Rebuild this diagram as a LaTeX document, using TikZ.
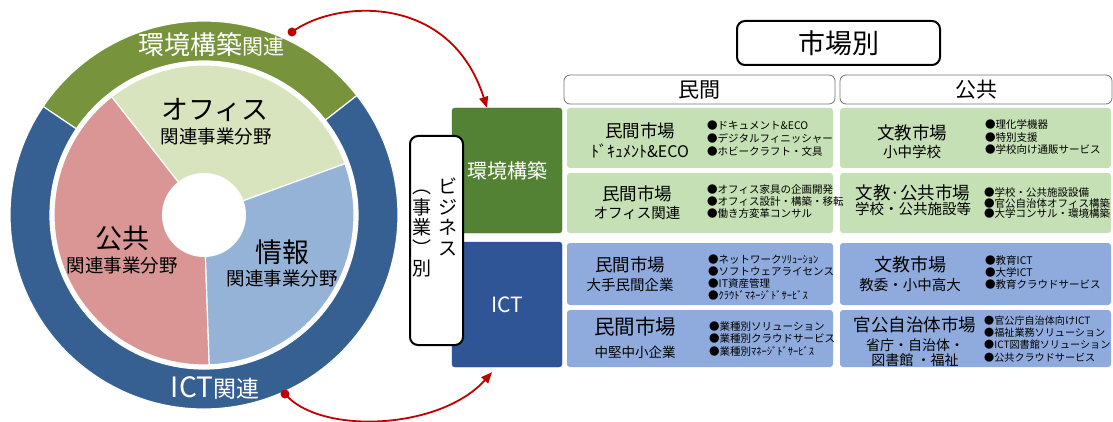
\documentclass[tikz,border=0pt]{standalone}
\usepackage{fontspec}
\setmainfont{Noto Sans CJK JP}
\usetikzlibrary{arrows.meta,positioning,calc}
\definecolor{ringgreen}{RGB}{119,147,60}
\definecolor{ringblue}{RGB}{55,96,146}
\definecolor{piegreen}{RGB}{215,228,189}
\definecolor{piered}{RGB}{217,150,148}
\definecolor{pieblue}{RGB}{149,179,215}
\definecolor{bizgreen}{RGB}{84,130,53}
\definecolor{bizblue}{RGB}{47,85,151}
\definecolor{cellgreen}{RGB}{197,224,180}
\definecolor{cellblue}{RGB}{143,170,220}
\definecolor{linkred}{RGB}{192,0,0}
\newcommand{\jpsize}[1]{\fontsize{#1}{#1}\selectfont}

\begin{document}
\begin{tikzpicture}[x=1pt, y=-1pt,
    cellg/.style={fill=cellgreen, rounded corners=3pt, inner sep=0pt},
    cellb/.style={fill=cellblue, rounded corners=3pt, inner sep=0pt},
    celltitle/.style={inner sep=0pt, font=\jpsize{17.5}},
    cellsub/.style={inner sep=0pt, font=\jpsize{14.5}},
    cellitems/.style={anchor=west, align=left, inner sep=0pt, font=\fontsize{10.5}{#1}\selectfont},
    cellitems/.default=12.5,
    bizg/.style={fill=bizgreen, draw=bizgreen!85!black, rounded corners=3pt, minimum width=110pt, minimum height=125pt, text=white, font=\jpsize{20}},
    bizb/.style={fill=bizblue, draw=bizblue!85!black, rounded corners=3pt, minimum width=110pt, minimum height=125pt, text=white, font=\jpsize{21}},
    colhead/.style={draw=black!55, line width=0.8pt, rounded corners=6pt, minimum height=29pt, font=\jpsize{21}},
    vcol/.style={align=center, inner sep=0pt, font=\fontsize{19}{20.5}\selectfont},
    link/.style={linkred, line width=1.8pt, -{Triangle[length=11pt, width=9pt]}}]
    \useasboundingbox (0,0) rectangle (1113,422);

    % outer ring
    \coordinate (C) at (204,215);
    \fill[ringgreen, draw=white, line width=1.2pt] ($(C)+(-38:194)$) arc[start angle=-38, end angle=-146, radius=194]
        -- ($(C)+(-146:154)$) arc[start angle=-146, end angle=-38, radius=154] -- cycle;
    \fill[ringblue, draw=white, line width=1.2pt] ($(C)+(-146:194)$) arc[start angle=-146, end angle=-398, radius=194]
        -- ($(C)+(-398:154)$) arc[start angle=-398, end angle=-146, radius=154] -- cycle;

    % pie of business fields
    \fill[piegreen, draw=white, line width=1.2pt] (C) -- ($(C)+(-20:150)$) arc[start angle=-20, end angle=-128, radius=150] -- cycle;
    \fill[piered, draw=white, line width=1.2pt] (C) -- ($(C)+(-128:150)$) arc[start angle=-128, end angle=-272, radius=150] -- cycle;
    \fill[pieblue, draw=white, line width=1.2pt] (C) -- ($(C)+(-272:150)$) arc[start angle=-272, end angle=-380, radius=150] -- cycle;
    \fill[white] (C) circle (42);

    % ring labels
    \node[font=\jpsize{26}, text=white, inner sep=0pt] (envring) at (211,45) {環境構築{\jpsize{21}関連}};
    \node[font=\jpsize{28}, text=white, inner sep=0pt] (ictring) at (215,388) {ICT{\jpsize{23}関連}};

    % pie labels
    \node[font=\jpsize{27}, inner sep=0pt] (office) at (215,110) {オフィス};
    \node[font=\jpsize{18.5}, inner sep=0pt] (officesub) at (216,137) {関連事業分野};
    \node[font=\jpsize{27}, inner sep=0pt] (public) at (122,238) {公共};
    \node[font=\jpsize{18.5}, inner sep=0pt] (publicsub) at (122,266) {関連事業分野};
    \node[font=\jpsize{27}, inner sep=0pt] (info) at (282,252) {情報};
    \node[font=\jpsize{18.5}, inner sep=0pt] (infosub) at (282,279) {関連事業分野};

    % business boxes
    \node[bizg] (envbox) at (507,170.5) {環境構築};
    \node[bizb] (ictbox) at (507,304.5) {ICT};
    \node[draw=black, line width=2pt, fill=white, rounded corners=8pt, minimum width=53pt, minimum height=209pt] (bizframe) at (436.5,240.5) {};
    \node[vcol, anchor=north] (bizright) at (448,177.5) {\rule{0pt}{16pt}ビ\\ジ\\ネ\\ス};
    \node[vcol, anchor=north] (bizleft) at (422,177.5) {\rule{0pt}{16pt}︵\\事\\業\\︶\\別};

    % market headers
    \node[draw=black, line width=2pt, rounded corners=8pt, minimum width=203pt, minimum height=44pt, font=\jpsize{27}] (market) at (838.5,43) {市場別};
    \node[colhead, minimum width=271pt] (privhead) at (699.5,89.5) {民間};
    \node[colhead, minimum width=272pt] (pubhead) at (976,89.5) {公共};

    % private market cells
    \node[cellg, minimum width=266pt, minimum height=60pt] (pv1) at (700,138) {};
    \node[cellg, minimum width=266pt, minimum height=60pt] (pv2) at (700,203) {};
    \node[cellb, minimum width=266pt, minimum height=62pt] (pv3) at (700,274) {};
    \node[cellb, minimum width=266pt, minimum height=57pt] (pv4) at (700,338.5) {};

    % public market cells
    \node[cellg, minimum width=271pt, minimum height=60pt] (pb1) at (975.5,138) {};
    \node[cellg, minimum width=271pt, minimum height=60pt] (pb2) at (975.5,203) {};
    \node[cellb, minimum width=271pt, minimum height=62pt] (pb3) at (975.5,274) {};
    \node[cellb, minimum width=271pt, minimum height=57pt] (pb4) at (975.5,338.5) {};

    % private market texts
    \node[celltitle] (pv1t) at (640,131) {民間市場};
    \node[cellsub, font=\jpsize{16}] (pv1s) at (640,151) {ﾄﾞｷｭﾒﾝﾄ\&ECO};
    \node[cellitems=13] (pv1i) at (707,139) {●ドキュメント\&ECO\\●デジタルフィニッシャー\\●ホビークラフト・文具};
    \node[celltitle] (pv2t) at (637,194) {民間市場};
    \node[cellsub] (pv2s) at (637,213) {オフィス関連};
    \node[cellitems=12] (pv2i) at (707,202) {●オフィス家具の企画開発\\●オフィス設計・構築・移転\\●働き方変革コンサル};
    \node[celltitle] (pv3t) at (630,265) {民間市場};
    \node[cellsub] (pv3s) at (630,285) {大手民間企業};
    \node[cellitems=12.3] (pv3i) at (708,277.5) {●ネットワークｿﾘｭｰｼｮﾝ\\●ソフトウェアライセンス\\●IT資産管理\\●ｸﾗｳﾄﾞﾏﾈｰｼﾞﾄﾞｻｰﾋﾞｽ};
    \node[celltitle, font=\jpsize{20.5}] (pv4t) at (635,327) {民間市場};
    \node[cellsub, font=\jpsize{13.5}] (pv4s) at (635,352) {中堅中小企業};
    \node[cellitems] (pv4i) at (709,339) {●業種別ソリューション\\●業種別クラウドサービス\\●業種別ﾏﾈｰｼﾞﾄﾞｻｰﾋﾞｽ};

    % public market texts
    \node[celltitle] (pb1t) at (912,133) {文教市場};
    \node[cellsub] (pb1s) at (912,152) {小中学校};
    \node[cellitems] (pb1i) at (985,137) {●理化学機器\\●特別支援\\●学校向け通販サービス};
    \node[celltitle] (pb2t) at (913,193) {文教·公共市場};
    \node[cellsub] (pb2s) at (913,209) {学校・公共施設等};
    \node[cellitems=10.8] (pb2i) at (984,203) {●学校・公共施設設備\\●官公自治体オフィス構築\\●大学コンサル・環境構築};
    \node[celltitle, font=\jpsize{18}] (pb3t) at (910,265) {文教市場};
    \node[cellsub] (pb3s) at (910,285) {教委・小中高大};
    \node[cellitems=12] (pb3i) at (985,273) {●教育ICT\\●大学ICT\\●教育クラウドサービス};
    \node[celltitle] (pb4t) at (915,325) {官公自治体市場};
    \node[cellsub, font=\jpsize{14}] (pb4s) at (915,345) {省庁・自治体・};
    \node[cellsub, font=\jpsize{14}] (pb4s2) at (915,360) {図書館 ・福祉};
    \node[cellitems, font=\fontsize{10.1}{12.3}\selectfont] (pb4i) at (984,339) {●官公庁自治体向けICT\\●福祉業務ソリューション\\●ICT図書館ソリューション\\●公共クラウドサービス};

    % links from ring to business boxes
    \coordinate (envdot) at (292,32);
    \coordinate (ictdot) at (285,394);
    \fill[linkred] (envdot) circle (4.5);
    \fill[linkred] (ictdot) circle (4.5);
    \draw[link] (envdot) .. controls +(43,-32) and +(-37,-116) .. ([xshift=-20pt]envbox.north);
    \draw[link] (ictdot) .. controls +(35,41) and +(-52,58) .. ([xshift=-15pt, yshift=-5pt]ictbox.south);
\end{tikzpicture}
\end{document}
